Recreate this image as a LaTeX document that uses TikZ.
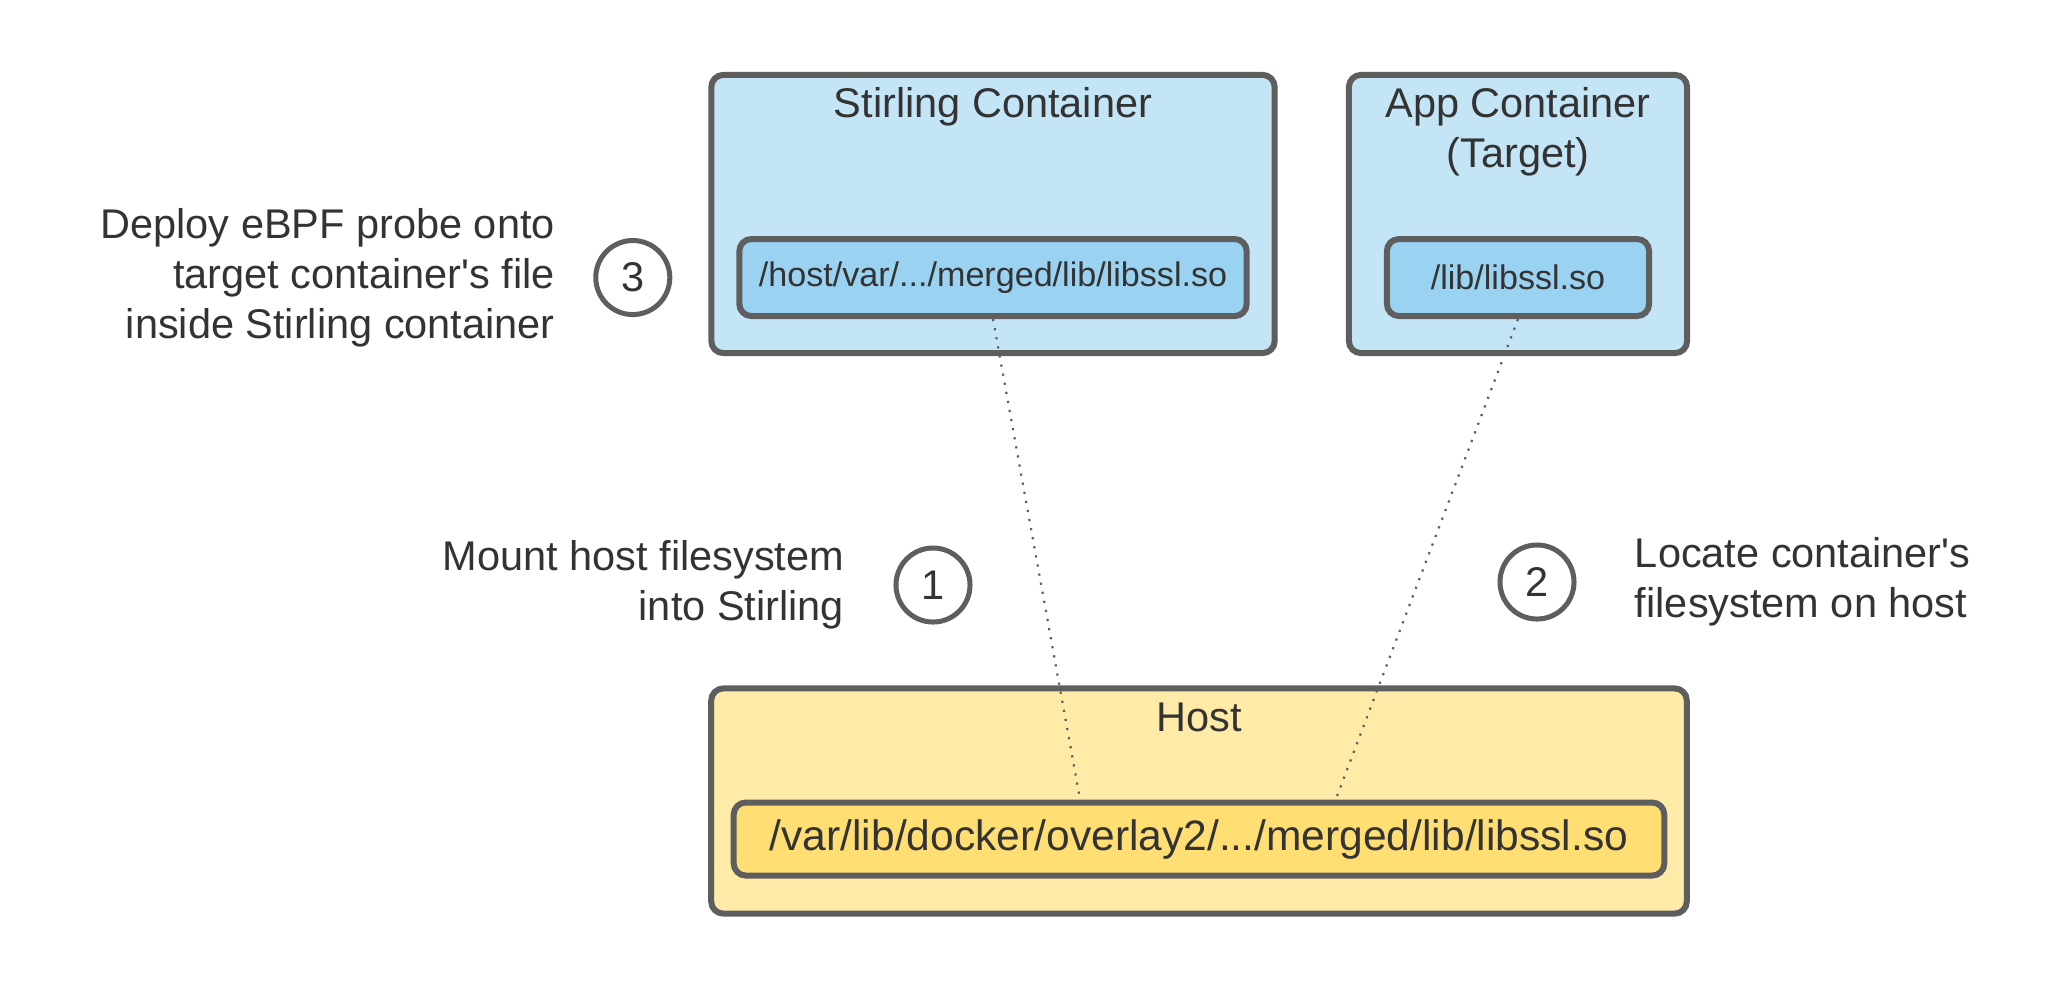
\documentclass[tikz,border=0pt]{standalone}
\usepackage{fontspec}
\setmainfont{Liberation Sans}
\usetikzlibrary{positioning,calc}
\definecolor{Frame}{RGB}{94,94,94}
\definecolor{Ink}{RGB}{51,51,51}
\definecolor{SkyLight}{RGB}{196,229,246}
\definecolor{Sky}{RGB}{154,210,242}
\definecolor{SandLight}{RGB}{255,235,167}
\definecolor{Sand}{RGB}{255,222,115}

\begin{document}
\begin{tikzpicture}[
    x=0.01cm,y=-0.01cm,
    box/.style={rectangle,rounded corners=0.12cm,draw=Frame,line width=0.06cm,inner sep=0pt},
    outer/.style={box,fill=SkyLight},
    filebox/.style={box,fill=Sky,minimum height=0.77cm,font=\fontsize{9.7}{11.6}\selectfont,text=Ink},
    title/.style={font=\fontsize{11.8}{14.2}\selectfont,text=Ink,align=center},
    note/.style={font=\fontsize{11.8}{14.2}\selectfont,text=Ink},
    stepmark/.style={circle,draw=Frame,line width=0.05cm,minimum size=0.74cm,inner sep=0pt,
                     font=\fontsize{11.8}{14.2}\selectfont,text=Ink},
    link/.style={draw=Frame,line width=0.022cm,dotted}
]
\useasboundingbox (0,0) rectangle (2063,990);

% Stirling container
\node[outer,minimum width=5.63cm,minimum height=2.78cm] (stirling) at (993,214) {};
\node[title,below=0.03cm of stirling.north] (stirlingtitle) {Stirling Container};
\node[filebox,minimum width=5.07cm,above=0.37cm of stirling.south] (slib) {/host/var/.../merged/lib/libssl.so};

% App container
\node[outer,minimum width=3.38cm,minimum height=2.78cm] (app) at (1518,214) {};
\node[title,below=0.03cm of app.north] (apptitle) {App Container\\(Target)};
\node[filebox,minimum width=2.62cm,above=0.37cm of app.south] (alib) {/lib/libssl.so};

% Host
\node[box,fill=SandLight,minimum width=9.75cm,minimum height=2.25cm] (host) at (1199,801) {};
\node[title,below=0.05cm of host.north] (hosttitle) {Host};
\node[box,fill=Sand,minimum width=9.30cm,minimum height=0.73cm,above=0.38cm of host.south,
      font=\fontsize{12.1}{14.5}\selectfont,text=Ink] (hlib) {/var/lib/docker/overlay2/.../merged/lib/libssl.so};

% Steps
\node[stepmark,left=0.64cm of slib] (step3) {3};
\node[note,align=right,left=0.26cm of step3] (note3) {Deploy eBPF probe onto\\target container\textquotesingle s file\\inside Stirling container};

\node[stepmark] (step1) at (933,585) {1};
\node[note,align=right,left=0.37cm of step1] (note1) {Mount host filesystem\\into Stirling};

\node[stepmark] (step2) at (1537,582) {2};
\node[note,align=left,right=0.46cm of step2] (note2) {Locate container\textquotesingle s\\filesystem on host};

% Dotted links
\draw[link] (slib.south) -- ($(hlib.north west)!0.373!(hlib.north east)$);
\draw[link] (alib.south) -- ($(hlib.north west)!0.646!(hlib.north east)$);

\end{tikzpicture}
\end{document}
